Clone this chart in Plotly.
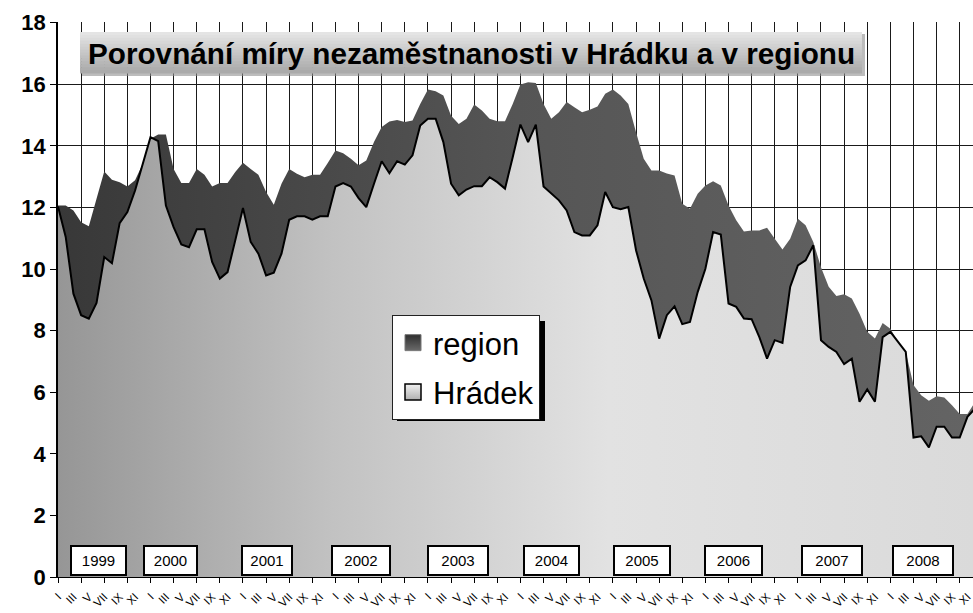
import plotly.graph_objects as go

# ---------------- data ----------------
years = [1999, 2000, 2001, 2002, 2003, 2004, 2005, 2006, 2007, 2008]
month_roman = ["I", "II", "III", "IV", "V", "VI", "VII", "VIII", "IX", "X", "XI", "XII"]

hradek = [
    12.03, 11.04, 9.20, 8.50, 8.39, 8.90, 10.39, 10.19, 11.49, 11.85, 12.55, 13.42,   # 1999
    14.28, 14.15, 12.06, 11.36, 10.80, 10.71, 11.29, 11.29, 10.23, 9.69, 9.90, 10.93,  # 2000
    11.98, 10.88, 10.50, 9.79, 9.88, 10.50, 11.60, 11.71, 11.71, 11.60, 11.71, 11.71,  # 2001
    12.68, 12.79, 12.68, 12.30, 12.01, 12.77, 13.50, 13.11, 13.50, 13.39, 13.69, 14.66,  # 2002
    14.88, 14.88, 14.12, 12.77, 12.39, 12.58, 12.69, 12.69, 12.98, 12.82, 12.61, 13.63,  # 2003
    14.69, 14.12, 14.69, 12.68, 12.44, 12.23, 11.90, 11.20, 11.09, 11.09, 11.42, 12.50,  # 2004
    12.01, 11.94, 12.01, 10.61, 9.69, 8.98, 7.74, 8.50, 8.79, 8.21, 8.28, 9.25,        # 2005
    10.01, 11.20, 11.12, 8.88, 8.77, 8.39, 8.37, 7.79, 7.09, 7.69, 7.60, 9.42,         # 2006
    10.12, 10.28, 10.77, 7.69, 7.47, 7.31, 6.91, 7.09, 5.69, 6.09, 5.69, 7.79,         # 2007
    7.96, 7.63, 7.31, 4.53, 4.57, 4.21, 4.88, 4.88, 4.53, 4.53, 5.20, 5.47,            # 2008
]

region = [
    12.06, 12.06, 11.90, 11.52, 11.39, 12.28, 13.17, 12.90, 12.82, 12.68, 12.88, 13.42,  # 1999
    14.23, 14.37, 14.37, 13.25, 12.79, 12.79, 13.25, 13.06, 12.68, 12.79, 12.79, 13.15,  # 2000
    13.45, 13.25, 13.06, 12.50, 12.09, 12.77, 13.25, 13.09, 12.98, 13.06, 13.06, 13.44,  # 2001
    13.85, 13.76, 13.58, 13.37, 13.52, 14.12, 14.61, 14.79, 14.84, 14.77, 14.82, 15.36,  # 2002
    15.83, 15.77, 15.63, 14.98, 14.71, 14.88, 15.34, 15.15, 14.88, 14.80, 14.80, 15.36,  # 2003
    15.99, 16.06, 16.04, 15.36, 14.88, 15.09, 15.42, 15.25, 15.09, 15.17, 15.28, 15.69,  # 2004
    15.83, 15.63, 15.36, 14.44, 13.58, 13.20, 13.20, 13.10, 13.04, 12.12, 11.96, 12.44,  # 2005
    12.71, 12.85, 12.71, 12.06, 11.58, 11.22, 11.25, 11.25, 11.34, 10.98, 10.63, 10.98,  # 2006
    11.63, 11.42, 10.88, 10.06, 9.42, 9.12, 9.18, 9.04, 8.55, 7.96, 7.74, 8.25,          # 2007
    8.06, 7.63, 7.31, 6.23, 5.90, 5.72, 5.87, 5.83, 5.58, 5.29, 5.29, 5.69,              # 2008
]

y_ticks = [0, 2, 4, 6, 8, 10, 12, 14, 16, 18]
title_text = "Porovnání míry nezaměstnanosti v Hrádku a v regionu"

# ---------------- derived ----------------
n = len(years) * 12
x = list(range(n))
label_vals = [i for i in x if i % 2 == 0]
label_text = [month_roman[i % 12] for i in label_vals]
mark_vals = [i for i in x if i % 3 == 0]

# layout geometry (pixels)
W, H = 973, 613
L, R, T, B = 58, 0, 22, 36
PW, PH = W - L - R, H - T - B


def px(p):
    return (p - L) / PW


def py(p):
    return (H - B - p) / PH


FONT = "Liberation Sans, Arial, sans-serif"

fig = go.Figure()

fig.add_trace(go.Scatter(
    x=x, y=region, name="region", mode="none", fill="tozeroy",
    fillgradient=dict(type="horizontal",
                      colorscale=[[0, "#383838"], [0.5, "#555555"], [1, "#646464"]]),
    showlegend=False, hoverinfo="skip",
))
fig.add_trace(go.Scatter(
    x=x, y=hradek, name="Hrádek", mode="lines", fill="tozeroy",
    line=dict(color="black", width=2),
    fillgradient=dict(type="horizontal",
                      colorscale=[[0, "#969696"], [0.3, "#c2c2c2"], [0.6, "#e2e2e2"], [1, "#dadada"]]),
    showlegend=False, hoverinfo="skip",
))

# legend entries (square swatches)
fig.add_trace(go.Scatter(
    x=[None], y=[None], xaxis="x2", name="region", mode="markers", legendgroup="a",
    marker=dict(symbol="square", size=17, color="#2e2e2e",
                gradient=dict(type="vertical", color="#6a6a6a"),
                line=dict(color="#777777", width=1)),
))
fig.add_trace(go.Scatter(
    x=[None], y=[None], xaxis="x2", name="Hrádek", mode="markers", legendgroup="b",
    marker=dict(symbol="square", size=17, color="#f2f2f2",
                gradient=dict(type="vertical", color="#b0b0b0"),
                line=dict(color="black", width=1.5)),
))

xr = [0, (W - R - L) / 7.707]

shapes = []
# legend shadow
shapes.append(dict(type="rect", xref="paper", yref="paper",
                   x0=px(397), x1=px(545), y0=py(421), y1=py(321),
                   fillcolor="black", line=dict(width=0), layer="above"))
# title box shadow + gradient strips
shapes.append(dict(type="rect", xref="paper", yref="paper",
                   x0=px(82), x1=px(865), y0=py(76), y1=py(34),
                   fillcolor="#8f8f8f", line=dict(width=0), layer="above", opacity=0.6))
top_c, bot_c = 0xe4, 0xaa
nstrip = 14
y_top, y_bot = 32, 73
for k in range(nstrip):
    c = int(round(top_c + (bot_c - top_c) * k / (nstrip - 1)))
    col = "#%02x%02x%02x" % (c, c, c)
    ya = y_top + (y_bot - y_top) * k / nstrip
    yb = y_top + (y_bot - y_top) * (k + 1) / nstrip
    shapes.append(dict(type="rect", xref="paper", yref="paper",
                       x0=px(80), x1=px(862), y0=py(yb + 0.5), y1=py(ya),
                       fillcolor=col, line=dict(width=0), layer="above"))

annotations = [dict(
    text="<b>" + title_text + "</b>", xref="paper", yref="paper",
    x=px(471.5), y=py(53.5), xanchor="center", yanchor="middle", showarrow=False,
    font=dict(family=FONT, size=29.7, color="black"),
)]

# year boxes
year_box_pos = [5.2, 14.66, 27.14, 39.27, 51.9, 64.0, 75.8, 87.6, 100.4, 112.2]
year_box_w = [57, 55, 52, 60, 62, 57, 58, 59, 62, 62]
for yv, pos, w in zip(years, year_box_pos, year_box_w):
    annotations.append(dict(
        text=str(yv), x=pos, y=0, xref="x", yref="y", xanchor="center", yanchor="bottom",
        yshift=1, showarrow=False, width=w - 8, height=23, align="center", valign="middle",
        bgcolor="white", bordercolor="black", borderwidth=2, borderpad=2,
        font=dict(family=FONT, size=15, color="black"),
    ))

fig.update_layout(
    width=W, height=H,
    margin=dict(l=L, r=R, t=T, b=B, pad=0, autoexpand=False),
    paper_bgcolor="white", plot_bgcolor="white",
    showlegend=True,
    legend=dict(x=px(392), y=py(315), xanchor="left", yanchor="top",
                bgcolor="white", bordercolor="#222222", borderwidth=1,
                font=dict(family=FONT, size=31, color="black"),
                tracegroupgap=6, itemsizing="trace"),
    xaxis=dict(range=xr, tickmode="array", tickvals=mark_vals, ticks="outside",
               ticklen=5, tickcolor="black", tickwidth=1, showticklabels=False,
               showgrid=True, gridcolor="#1a1a1a", gridwidth=1, zeroline=False,
               showline=True, linecolor="black", linewidth=1, automargin=False),
    xaxis2=dict(range=xr, overlaying="x", side="bottom", anchor="y",
                tickmode="array", tickvals=label_vals, ticktext=label_text,
                tickangle=-45, ticks="", showgrid=False, zeroline=False, showline=False,
                ticklabelstandoff=10, automargin=False,
                tickfont=dict(family=FONT, size=11.5, color="black")),
    yaxis=dict(range=[0, 18.02], tickmode="array", tickvals=y_ticks, ticks="outside",
               ticklen=6, tickcolor="black", tickwidth=1,
               showgrid=True, gridcolor="#1a1a1a", gridwidth=1, zeroline=False,
               showline=True, linecolor="black", linewidth=1.5, automargin=False,
               tickfont=dict(family=FONT, size=22, color="black", weight="bold")),
    shapes=shapes,
    annotations=annotations,
)

fig.write_html("out.html", config={"displayModeBar": False},
               post_script="document.body.style.margin='0';")
